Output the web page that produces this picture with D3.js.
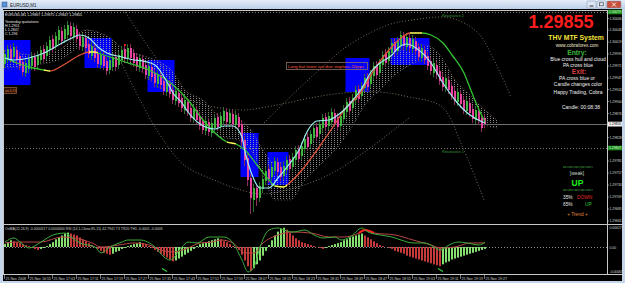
<!DOCTYPE html>
<html>
<head>
<meta charset="utf-8">
<script src="https://cdn.jsdelivr.net/npm/d3@7"></script>
<style>
  html, body { margin: 0; padding: 0; background: #c7d8ec; }
  svg { display: block; font-family: "Liberation Sans", Arial, sans-serif; }
</style>
</head>
<body>
<svg id="chart" width="625" height="283"></svg>
<script>
// M1 bars, 25 Nov 2008 16:47 .. 19:27 (161 bars)
const barOpen = [1.29975,1.29985,1.30005,1.29989,1.30003,1.29991,1.29979,1.29957,1.29965,1.29971,1.29989,1.29973,1.29983,1.30005,1.29991,1.30003,1.30025,1.30011,1.30023,1.30041,1.30025,1.30033,1.30051,1.30029,1.30045,1.30031,1.30009,1.30027,1.30015,1.29991,1.30007,1.29995,1.29973,1.29991,1.29981,1.29963,1.29969,1.29989,1.29973,1.29983,1.30005,1.29987,1.30007,1.29997,1.29989,1.29967,1.29985,1.29973,1.29951,1.29969,1.29957,1.29935,1.29953,1.29941,1.29919,1.29935,1.29923,1.29901,1.29917,1.29907,1.29883,1.29899,1.29887,1.29865,1.29883,1.29871,1.29863,1.29841,1.29859,1.29837,1.29847,1.29869,1.29851,1.29861,1.29879,1.29857,1.29875,1.29853,1.29869,1.29855,1.29823,1.29787,1.29747,1.29703,1.29727,1.29707,1.29725,1.29741,1.29765,1.29749,1.29761,1.29779,1.29769,1.29751,1.29763,1.29785,1.29769,1.29783,1.29805,1.29791,1.29805,1.29829,1.29815,1.29827,1.29849,1.29835,1.29847,1.29869,1.29851,1.29859,1.29877,1.29869,1.29851,1.29865,1.29879,1.29901,1.29887,1.29903,1.29925,1.29911,1.29927,1.29949,1.29935,1.29951,1.29973,1.29957,1.29973,1.29997,1.29981,1.29997,1.30019,1.30001,1.30013,1.30031,1.30009,1.30027,1.30005,1.30021,1.30009,1.29987,1.30003,1.29991,1.29981,1.29957,1.29973,1.29961,1.29949,1.29927,1.29943,1.29931,1.29921,1.29899,1.29915,1.29903,1.29881,1.29897,1.29885,1.29863,1.29881,1.29867,1.29867];
const barHigh = [1.30003,1.30013,1.30013,1.30017,1.30011,1.29999,1.29987,1.29985,1.29993,1.29999,1.29997,1.30001,1.30011,1.30013,1.30019,1.30031,1.30033,1.30039,1.30051,1.30049,1.30053,1.30061,1.30059,1.30057,1.30053,1.30039,1.30037,1.30035,1.30023,1.30019,1.30015,1.30003,1.30001,1.29999,1.29989,1.29991,1.29997,1.29997,1.30001,1.30011,1.30013,1.30015,1.30015,1.30005,1.29997,1.29995,1.29993,1.29981,1.29979,1.29977,1.29965,1.29963,1.29961,1.29949,1.29947,1.29943,1.29931,1.29929,1.29925,1.29915,1.29911,1.29907,1.29895,1.29893,1.29891,1.29879,1.29871,1.29869,1.29867,1.29865,1.29875,1.29877,1.29879,1.29889,1.29887,1.29885,1.29883,1.29881,1.29877,1.29863,1.29831,1.29795,1.29755,1.29735,1.29735,1.29739,1.29753,1.29769,1.29773,1.29777,1.29789,1.29787,1.29777,1.29779,1.29791,1.29793,1.29797,1.29811,1.29813,1.29819,1.29833,1.29837,1.29843,1.29855,1.29857,1.29863,1.29875,1.29877,1.29879,1.29887,1.29885,1.29877,1.29879,1.29893,1.29907,1.29909,1.29915,1.29931,1.29933,1.29939,1.29955,1.29957,1.29963,1.29979,1.29981,1.29985,1.30001,1.30005,1.30009,1.30025,1.30027,1.30029,1.30041,1.30039,1.30037,1.30035,1.30033,1.30029,1.30017,1.30015,1.30011,1.29999,1.29989,1.29985,1.29981,1.29969,1.29957,1.29955,1.29951,1.29939,1.29929,1.29927,1.29923,1.29911,1.29909,1.29905,1.29893,1.29891,1.29889,1.29875,1.29875];
const barLow = [1.29967,1.29977,1.29977,1.29981,1.29975,1.29963,1.29951,1.29949,1.29957,1.29963,1.29961,1.29965,1.29975,1.29977,1.29983,1.29995,1.29997,1.30003,1.30015,1.30013,1.30017,1.30025,1.30023,1.30021,1.30017,1.30003,1.30001,1.29999,1.29987,1.29983,1.29979,1.29967,1.29965,1.29963,1.29953,1.29955,1.29961,1.29961,1.29965,1.29975,1.29977,1.29979,1.29979,1.29969,1.29961,1.29959,1.29957,1.29945,1.29943,1.29941,1.29929,1.29927,1.29925,1.29913,1.29911,1.29907,1.29895,1.29893,1.29889,1.29879,1.29875,1.29871,1.29859,1.29857,1.29855,1.29843,1.29835,1.29833,1.29831,1.29829,1.29839,1.29841,1.29843,1.29853,1.29851,1.29849,1.29847,1.29845,1.29841,1.29811,1.29771,1.29731,1.29675,1.29679,1.29691,1.29699,1.29717,1.29733,1.29737,1.29741,1.29753,1.29751,1.29741,1.29743,1.29755,1.29757,1.29761,1.29775,1.29777,1.29783,1.29797,1.29801,1.29807,1.29819,1.29821,1.29827,1.29839,1.29841,1.29843,1.29851,1.29849,1.29841,1.29843,1.29857,1.29871,1.29873,1.29879,1.29895,1.29897,1.29903,1.29919,1.29921,1.29927,1.29943,1.29945,1.29949,1.29965,1.29969,1.29973,1.29989,1.29991,1.29993,1.30005,1.30003,1.30001,1.29999,1.29997,1.29993,1.29981,1.29979,1.29975,1.29963,1.29953,1.29949,1.29945,1.29933,1.29921,1.29919,1.29915,1.29903,1.29893,1.29891,1.29887,1.29875,1.29873,1.29869,1.29857,1.29855,1.29853,1.29839,1.29847];
const barClose = [1.29995,1.30005,1.29985,1.30009,1.29983,1.29971,1.29959,1.29977,1.29985,1.29991,1.29969,1.29993,1.30003,1.29985,1.30011,1.30023,1.30005,1.30031,1.30043,1.30021,1.30045,1.30053,1.30031,1.30049,1.30025,1.30011,1.30029,1.30007,1.29995,1.30011,1.29987,1.29975,1.29993,1.29971,1.29961,1.29983,1.29989,1.29969,1.29993,1.30003,1.29985,1.30007,1.29987,1.29977,1.29969,1.29987,1.29965,1.29953,1.29971,1.29949,1.29937,1.29955,1.29933,1.29921,1.29939,1.29915,1.29903,1.29921,1.29897,1.29887,1.29903,1.29879,1.29867,1.29885,1.29863,1.29851,1.29843,1.29861,1.29839,1.29857,1.29867,1.29849,1.29871,1.29881,1.29859,1.29877,1.29855,1.29873,1.29849,1.29819,1.29783,1.29743,1.29707,1.29727,1.29707,1.29731,1.29745,1.29761,1.29745,1.29769,1.29781,1.29759,1.29749,1.29771,1.29783,1.29765,1.29789,1.29803,1.29785,1.29811,1.29825,1.29809,1.29835,1.29847,1.29829,1.29855,1.29867,1.29849,1.29871,1.29879,1.29857,1.29849,1.29871,1.29885,1.29899,1.29881,1.29907,1.29923,1.29905,1.29931,1.29947,1.29929,1.29955,1.29971,1.29953,1.29977,1.29993,1.29977,1.30001,1.30017,1.29999,1.30021,1.30033,1.30011,1.30029,1.30007,1.30025,1.30001,1.29989,1.30007,1.29983,1.29971,1.29961,1.29977,1.29953,1.29941,1.29929,1.29947,1.29923,1.29911,1.29901,1.29919,1.29895,1.29883,1.29901,1.29877,1.29865,1.29883,1.29861,1.29847,1.29855];

// higher timeframe boxes (bar index range, high, low)
const boxStart = [0, 27, 48, 79, 88, 114, 129];
const boxEnd   = [8, 35, 56, 84, 94, 121, 141];
const boxHigh  = [1.30023, 1.30027, 1.29983, 1.29837, 1.29799, 1.29987, 1.30027];
const boxLow   = [1.29933, 1.29967, 1.29919, 1.29749, 1.29733, 1.29919, 1.29973];

// hull MA (cyan) and slow MA [bar, price]
const hullLine = [[0,1.29987],[3,1.29983],[8,1.29987],[13,1.29997],[19,1.30017],[23,1.30029],[25,1.30033],[28,1.30027],[31,1.30009],[34,1.29997],[39,1.29989],[43,1.29983],[46,1.29981],[50,1.29973],[52,1.29959],[54,1.29939],[56,1.29917],[59,1.29897],[61,1.29879],[65,1.29855],[70,1.29845],[73,1.29851],[76,1.29851],[79,1.29829],[80,1.29799],[82,1.29759],[85,1.29727],[88,1.29727],[91,1.29747],[94,1.29769],[98,1.29803],[101,1.29843],[104,1.29861],[108,1.29863],[110,1.29869],[113,1.29883],[116,1.29903],[119,1.29927],[122,1.29959],[125,1.29977],[129,1.29993],[131,1.30007],[134,1.30015],[137,1.30007],[142,1.29977],[146,1.29937],[150,1.29903],[153,1.29883],[156,1.29869],[160,1.29857]];
const slowLine = [[0,1.29987],[4,1.29977],[8,1.29969],[13,1.29963],[15,1.29961],[20,1.29975],[25,1.29993],[28,1.29999],[30,1.29999],[31,1.29997],[36,1.29987],[40,1.29979],[48,1.29963],[56,1.29933],[61,1.29903],[66,1.29863],[70,1.29837],[74,1.29819],[77,1.29815],[80,1.29803],[84,1.29773],[88,1.29743],[90,1.29731],[93,1.29729],[94,1.29733],[99,1.29763],[104,1.29803],[110,1.29855],[113,1.29883],[118,1.29913],[123,1.29963],[128,1.30003],[132,1.30027],[135,1.30037],[139,1.30037],[142,1.30033],[146,1.30017],[149,1.29993],[153,1.29957],[155,1.29927],[157,1.29897],[160,1.29859]];
const slowStates = [[0,13,"down"],[13,15,"flat"],[15,28,"up"],[28,31,"flat"],[31,74,"down"],[74,77,"flat"],[77,90,"down"],[90,94,"flat"],[94,135,"up"],[135,139,"flat"],[139,160,"down"]];

// cloud
const cloudIdx   = [0,10,18,27,35,40,45,50,56,60,66,72,78,82,86,90,95,100,105,110,115,120,125,130,135,140,145,150,155,160,164];
const cloudUpper = [1.30003,1.29993,1.30003,1.30043,1.30027,1.30003,1.29993,1.29983,1.29959,1.29923,1.29903,1.29869,1.29863,1.29843,1.29803,1.29777,1.29783,1.29803,1.29843,1.29863,1.29893,1.29933,1.29973,1.29993,1.30013,1.30013,1.29993,1.29943,1.29913,1.29883,1.29863];
const cloudLower = [1.29967,1.29973,1.29983,1.30013,1.29993,1.29979,1.29963,1.29933,1.29913,1.29883,1.29853,1.29829,1.29823,1.29803,1.29753,1.29703,1.29703,1.29743,1.29773,1.29803,1.29843,1.29893,1.29923,1.29953,1.29973,1.29983,1.29953,1.29903,1.29873,1.29853,1.29847];

// regression arcs [bar, price]
const arcUpperLeft = [[40,1.30083],[47,1.30019],[54,1.29959],[59,1.29913],[65,1.29897],[72,1.29887],[80,1.29883],[91,1.29893],[102,1.29907],[113,1.29917],[125,1.29919],[135,1.29909],[146,1.29889],[153,1.29807],[160,1.29703]];
const arcLower = [[39,1.29979],[45,1.29907],[52,1.29833],[60,1.29773],[70,1.29743],[79,1.29723],[86,1.29715],[99,1.29731],[110,1.29759],[122,1.29807],[135,1.29867]];
const arcUpperRight = [[86,1.29853],[95,1.29907],[105,1.29963],[115,1.30013],[128,1.30053],[136,1.30063],[149,1.30067],[158,1.30037],[163,1.29987],[169,1.29909]];

const resistance2 = 1.30079;
const resistance1 = 1.29807;
const redMark = [40, 1.30013];

const priceTicks = [1.30066,1.30043,1.30019,1.29995,1.29971,1.29947,1.29924,1.29900,1.29876,1.29828,1.29781,1.29757,1.29733,1.29709,1.29685,1.29661];
const timeLabels = ["25 Nov 2008","25 Nov 16:55","25 Nov 17:03","25 Nov 17:11","25 Nov 17:19","25 Nov 17:27","25 Nov 17:35","25 Nov 17:43","25 Nov 17:51","25 Nov 17:59","25 Nov 18:07","25 Nov 18:15","25 Nov 18:23","25 Nov 18:31","25 Nov 18:39","25 Nov 18:47","25 Nov 18:55","25 Nov 19:03","25 Nov 19:11","25 Nov 19:19","25 Nov 19:27"];
const timeLabelBars = [0,8,16,24,32,40,48,56,64,72,80,88,96,104,112,120,128,136,144,152,160];

// OsMA histogram, one per bar
const osmaValues = [0.000075,0.000125,0.000175,0.00015,0.000125,0.0001,0.000075,0.00005,0.000025,-0.000025,-0.00005,-0.000075,-0.00005,-0.000025,0.000025,0.000075,0.000125,0.0002,0.00025,0.0003,0.00035,0.000375,0.00035,0.000325,0.0003,0.00025,0.0002,0.00015,0.0001,0.00005,0,-0.00005,-0.0001,-0.00015,-0.000175,-0.0002,-0.000175,-0.000125,-0.0001,-0.00005,-0.000025,0.000025,0.00005,0.000075,0.0001,0.000125,0.0001,0.000075,0.000025,-0.000025,-0.000075,-0.000125,-0.000175,-0.000225,-0.000275,-0.000325,-0.000375,-0.00035,-0.0003,-0.00025,-0.0002,-0.00015,-0.0001,-0.00005,0.000025,0.000075,0.0001,0.000125,0.00015,0.000175,0.0002,0.000225,0.0002,0.00015,0.000125,0.000075,0.000025,-0.000025,-0.000075,-0.0002,-0.00035,-0.0005,-0.000625,-0.00055,-0.00045,-0.00035,-0.000225,-0.0001,0.00005,0.000175,0.0003,0.0004,0.000475,0.0005,0.00045,0.000375,0.0003,0.000225,0.000175,0.000125,0.0001,0.000075,0.00005,0.000025,0,-0.000025,-0.00005,-0.000025,0.000025,0.00005,0.000075,0.0001,0.000125,0.000175,0.0002,0.00025,0.000275,0.0003,0.000325,0.00035,0.0003,0.00025,0.0002,0.00015,0.0001,0.00005,0.000025,0,-0.000025,-0.00005,-0.0001,-0.000125,-0.00015,-0.000175,-0.000225,-0.00025,-0.000275,-0.0003,-0.000325,-0.00035,-0.000375,-0.0004,-0.000425,-0.00045,-0.000475,-0.0005,-0.00045,-0.0004,-0.000375,-0.000325,-0.0003,-0.000275,-0.00025,-0.000225,-0.0002,-0.000175,-0.00015,-0.000125,-0.0001,-0.000075,-0.00005];
// RSI and its signal line [bar, value]
const rsiMain = [[0,56.9],[3,62.5],[5,56.9],[8,48.6],[12,56.9],[16,66.7],[20,69.4],[22,63.9],[25,55.6],[30,50],[32,41.7],[35,50],[39,56.9],[41,59.7],[45,59.7],[50,50],[53,36.1],[55,31.9],[59,50],[61,56.9],[64,55.6],[68,63.9],[73,63.9],[76,55.6],[79,31.9],[81,15.3],[83,22.2],[85,50],[88,73.6],[91,76.4],[93,73.6],[96,70.8],[100,73.6],[103,66.7],[106,62.5],[110,63.9],[112,59.7],[115,63.9],[119,76.4],[121,70.8],[125,66.7],[129,63.9],[132,59.7],[136,55.6],[140,55.6],[143,50],[145,45.8],[148,52.8],[151,56.9],[154,55.6],[158,52.8],[160,56.9]];
const rsiSignal = [[0,55.6],[5,56.9],[12,56.9],[19,63.9],[23,62.5],[29,55.6],[32,50],[38,52.8],[43,55.6],[48,52.8],[52,45.8],[56,43.1],[61,48.6],[65,55.6],[69,56.9],[72,59.7],[76,55.6],[80,41.7],[83,41.7],[86,55.6],[91,66.7],[96,70.8],[102,69.4],[108,63.9],[113,63.9],[118,69.4],[120,73.6],[123,69.4],[130,66.7],[136,59.7],[142,52.8],[145,48.6],[150,50],[155,55.6],[160,55.6]];
const rsiHighlight = [116, 123];
const buySignalBars = [53, 145];

const yesterday = { H: "1.2951", L: "1.2847", C: "1.296" };

// ---------------------------------------------------------------
const svg = d3.select("#chart");
const defs = svg.append("defs");

const left = 3, right = 607, mainTop = 10, mainBottom = 224, indTop = 225, indBottom = 274;

const x = d3.scaleLinear().domain([0, 160]).range([4, 484]);
const y = d3.scaleLinear().domain([1.29655, 1.30103]).range([224, 0]);
const yOsma = d3.scaleLinear().domain([-0.00065, 0]).range([272, 247]);
const yRsi = d3.scaleLinear().domain([0, 100]).range([283, 211]);
const fmt5 = d3.format(".5f");

// window chrome
const tg = defs.append("linearGradient").attr("id", "titleGrad").attr("x1", 0).attr("y1", 0).attr("x2", 0).attr("y2", 1);
tg.append("stop").attr("offset", "0%").attr("stop-color", "#e6eef9");
tg.append("stop").attr("offset", "100%").attr("stop-color", "#bccfe8");
svg.append("rect").attr("width", 625).attr("height", 283).attr("fill", "#c4d5ea");
svg.append("rect").attr("width", 625).attr("height", 9).attr("fill", "url(#titleGrad)");
svg.append("rect").attr("x", 2).attr("y", 2).attr("width", 5).attr("height", 5).attr("fill", "#5a8fd0").attr("stroke", "#2d5c9a").attr("stroke-width", 0.5);
svg.append("text").attr("x", 10).attr("y", 7).attr("font-size", 4.5).attr("fill", "#1a1a1a").text("EURUSD,M1");

const buttons = [{x: 587, w: 9, c: "#dce6f3"}, {x: 597, w: 9, c: "#dce6f3"}, {x: 607, w: 14, c: "#c8503c"}];
svg.selectAll("rect.btn").data(buttons).join("rect").attr("class", "btn")
  .attr("x", d => d.x).attr("y", 1).attr("width", d => d.w).attr("height", 7).attr("rx", 1)
  .attr("fill", d => d.c).attr("stroke", "#7d92b4").attr("stroke-width", 0.5);
svg.append("line").attr("x1", 589.5).attr("x2", 593.5).attr("y1", 6).attr("y2", 6).attr("stroke", "#333");
svg.append("rect").attr("x", 599.5).attr("y", 2.8).attr("width", 4).attr("height", 3).attr("fill", "none").attr("stroke", "#333").attr("stroke-width", 0.6);
svg.append("path").attr("d", "M612,2.5 L616,6.5 M616,2.5 L612,6.5").attr("stroke", "#fff").attr("stroke-width", 0.9);

// black chart area
svg.append("rect").attr("x", left).attr("y", 9).attr("width", 619).attr("height", 272).attr("fill", "#000");

defs.append("clipPath").attr("id", "clipMain").append("rect")
  .attr("x", left + 1).attr("y", mainTop + 1).attr("width", right - left - 1).attr("height", mainBottom - mainTop - 1);
defs.append("clipPath").attr("id", "clipInd").append("rect")
  .attr("x", left + 1).attr("y", indTop + 1).attr("width", right - left - 1).attr("height", indBottom - indTop - 1);

// cloud drawn as dotted vertical hatching, one column per bar
const dots = defs.append("pattern").attr("id", "dots").attr("width", 3).attr("height", 2).attr("patternUnits", "userSpaceOnUse");
dots.append("rect").attr("x", 1).attr("width", 1).attr("height", 1).attr("fill", "#a9a9a9");

const g = svg.append("g").attr("clip-path", "url(#clipMain)");

// blue higher-timeframe boxes
g.selectAll("rect.box").data(d3.range(boxStart.length)).join("rect").attr("class", "box")
  .attr("x", k => x(boxStart[k]) - 0.5)
  .attr("width", k => x(boxEnd[k]) - x(boxStart[k]) + 3)
  .attr("y", k => y(boxHigh[k]))
  .attr("height", k => y(boxLow[k]) - y(boxHigh[k]))
  .attr("fill", "#0000fa");

// cloud
const cloud = cloudIdx.map((i, k) => ({i, hi: cloudUpper[k], lo: cloudLower[k]}));
g.append("path").datum(cloud)
  .attr("d", d3.area().curve(d3.curveMonotoneX).x(d => x(d.i) + 1).y0(d => y(d.lo)).y1(d => y(d.hi)))
  .attr("fill", "url(#dots)").attr("opacity", 0.8);
[["hi", "#8a6a6a"], ["lo", "#6e6e6e"]].forEach(([k, c]) => {
  g.append("path").datum(cloud)
    .attr("d", d3.line().curve(d3.curveMonotoneX).x(d => x(d.i) + 1).y(d => y(d[k])))
    .attr("fill", "none").attr("stroke", c).attr("stroke-width", 0.8).attr("stroke-dasharray", "1,2");
});

// dotted arcs
[arcUpperLeft, arcLower, arcUpperRight].forEach(arc => {
  g.append("path").datum(arc)
    .attr("d", d3.line().curve(d3.curveCatmullRom).x(d => x(d[0])).y(d => y(d[1])))
    .attr("fill", "none").attr("stroke", "#7a6e5a").attr("stroke-width", 1).attr("stroke-dasharray", "1,2");
});

// resistance & bid lines
[resistance2, resistance1].forEach(r => {
  g.append("line").attr("x1", left).attr("x2", right)
    .attr("y1", Math.round(y(r)) + 0.5).attr("y2", Math.round(y(r)) + 0.5)
    .attr("stroke", "#7a7a7a").attr("stroke-dasharray", "1,2");
});
const bid = barClose[barClose.length - 1];
g.append("line").attr("x1", left).attr("x2", right)
  .attr("y1", Math.round(y(bid)) + 0.5).attr("y2", Math.round(y(bid)) + 0.5)
  .attr("stroke", "#6e6e6e").attr("stroke-width", 1.2);

// candles
const bars = barOpen.map((o, i) => ({i, o, h: barHigh[i], l: barLow[i], c: barClose[i]}));
g.selectAll("line.wick").data(bars).join("line").attr("class", "wick")
  .attr("x1", d => x(d.i) + 0.5).attr("x2", d => x(d.i) + 0.5)
  .attr("y1", d => y(d.h)).attr("y2", d => y(d.l))
  .attr("stroke", d => d.c >= d.o ? "#2c6e2c" : "#8b2c5c");
g.selectAll("rect.body").data(bars).join("rect").attr("class", "body")
  .attr("x", d => x(d.i)).attr("width", 2)
  .attr("y", d => y(Math.max(d.o, d.c)))
  .attr("height", d => Math.max(1, Math.abs(y(d.o) - y(d.c))))
  .attr("fill", d => d.c >= d.o ? "#3fb43f" : "#e6449f");

// slow line coloured by state
const stateColor = {down: "#32c232", up: "#e0523c", flat: "#ffff5a"};
const slowPath = d3.line().curve(d3.curveMonotoneX).x(d => x(d[0]) + 1).y(d => y(d[1]))(slowLine);
slowStates.forEach(([s, e, st], k) => {
  const id = "slowClip" + k;
  defs.append("clipPath").attr("id", id).append("rect")
    .attr("x", x(s) + 1).attr("y", 0).attr("width", x(e) - x(s) + (k === slowStates.length - 1 ? 3 : 0)).attr("height", 283);
  g.append("path").attr("d", slowPath).attr("clip-path", `url(#${id})`)
    .attr("fill", "none").attr("stroke", stateColor[st]).attr("stroke-width", 1.3);
});

// hull line
g.append("path").datum(hullLine)
  .attr("d", d3.line().curve(d3.curveMonotoneX).x(d => x(d[0]) + 1).y(d => y(d[1])))
  .attr("fill", "none").attr("stroke", "#9eeef2").attr("stroke-width", 1.2);

// red marker
g.append("rect").attr("x", x(redMark[0])).attr("y", y(redMark[1]) - 1).attr("width", 2).attr("height", 2).attr("fill", "#e02020");

// annotations
const note = svg.append("g");
note.append("rect").attr("x", 286.5).attr("y", 62.5).attr("width", 81).attr("height", 7)
  .attr("fill", "none").attr("stroke", "#8c7060").attr("stroke-width", 0.8);
note.append("text").attr("x", 288).attr("y", 68).attr("font-size", 4.4).attr("fill", "#ff5a3c")
  .text("Long but lower out due stoploss 20pips");
note.append("rect").attr("x", 3.5).attr("y", 87.5).attr("width", 13).attr("height", 6)
  .attr("fill", "#2a1208").attr("stroke", "#8c5a40").attr("stroke-width", 0.8);
note.append("text").attr("x", 5).attr("y", 92.3).attr("font-size", 4.2).attr("fill", "#ff8a40").text("ss LO");
note.append("text").attr("x", 442).attr("y", Math.round(y(resistance2)) + 4.5).attr("font-size", 3.8).attr("fill", "#3a9a3a").text("Resistance 2");
note.append("text").attr("x", 442).attr("y", Math.round(y(resistance1)) + 4.5).attr("font-size", 3.8).attr("fill", "#3a9a3a").text("Resistance 1");

// top-left info
const last = bars[bars.length - 1];
const info = svg.append("g").attr("font-size", 3.6).attr("fill", "#e8e8e8");
info.append("text").attr("x", 5).attr("y", 15.5)
  .text(`EURUSD,M1  ${fmt5(last.o)} ${fmt5(last.h)} ${fmt5(last.l)} ${fmt5(last.c)}`);
info.append("text").attr("x", 5).attr("y", 22.5).text("Yesterday quotations");
info.append("text").attr("x", 5).attr("y", 26.5).text("H " + yesterday.H);
info.append("text").attr("x", 5).attr("y", 30.5).text("L " + yesterday.L);
info.append("text").attr("x", 5).attr("y", 34.5).text("C " + yesterday.C);

// indicator window
const gi = svg.append("g").attr("clip-path", "url(#clipInd)");
gi.append("line").attr("x1", left).attr("x2", right).attr("y1", yOsma(0) + 0.5).attr("y2", yOsma(0) + 0.5)
  .attr("stroke", "#8a8a8a").attr("stroke-dasharray", "1,2");
gi.selectAll("rect.osma").data(osmaValues).join("rect").attr("class", "osma")
  .attr("x", (v, i) => x(i)).attr("width", 2)
  .attr("y", v => Math.min(yOsma(v), yOsma(0)))
  .attr("height", v => Math.abs(yOsma(v) - yOsma(0)))
  .attr("fill", (v, i) => (i === 0 || v >= osmaValues[i - 1]) ? "#86e070" : "#c23a3a");
const rsiLine = d3.line().curve(d3.curveMonotoneX).x(d => x(d[0]) + 1).y(d => yRsi(d[1]));
gi.append("path").datum(rsiSignal).attr("d", rsiLine).attr("fill", "none").attr("stroke", "#b84646").attr("stroke-width", 1);
gi.append("path").datum(rsiSignal.filter(d => d[0] >= rsiHighlight[0] && d[0] <= rsiHighlight[1]))
  .attr("d", rsiLine).attr("fill", "none").attr("stroke", "#ff2424").attr("stroke-width", 2.2);
gi.append("path").datum(rsiMain).attr("d", rsiLine).attr("fill", "none").attr("stroke", "#3caa3c").attr("stroke-width", 1);
gi.selectAll("line.sig").data(buySignalBars).join("line").attr("class", "sig")
  .attr("x1", i => x(i) - 1).attr("x2", i => x(i) + 4)
  .attr("y1", yRsi(20)).attr("y2", yRsi(16))
  .attr("stroke", "#40d040").attr("stroke-width", 1.2);
svg.append("text").attr("x", 5).attr("y", 230).attr("font-size", 3.5).attr("fill", "#d0d0d0")
  .text("OsMA(12,26,9) -0.0000117 0.0000000  RSI (14,1,Close,85,15) 42.7941  T3 TR20 TH1 -0.0001 -0.0003");

// frame lines
const frame = svg.append("g").attr("stroke", "#c8c8c8").attr("stroke-width", 1);
frame.append("line").attr("x1", left).attr("x2", 622).attr("y1", mainTop + 0.5).attr("y2", mainTop + 0.5);
frame.append("line").attr("x1", left + 0.5).attr("x2", left + 0.5).attr("y1", mainTop).attr("y2", indBottom);
frame.append("line").attr("x1", left).attr("x2", 622).attr("y1", mainBottom + 0.5).attr("y2", mainBottom + 0.5);
frame.append("line").attr("x1", left).attr("x2", 622).attr("y1", indBottom + 0.5).attr("y2", indBottom + 0.5);
frame.append("line").attr("x1", right + 0.5).attr("x2", right + 0.5).attr("y1", mainTop).attr("y2", indBottom);

// price axis
const ax = svg.append("g").attr("font-size", 3.4).attr("fill", "#d8d8d8");
priceTicks.forEach(p => {
  ax.append("line").attr("x1", right).attr("x2", right + 2).attr("y1", y(p)).attr("y2", y(p)).attr("stroke", "#c8c8c8").attr("stroke-width", 0.6);
  ax.append("text").attr("x", right + 2.5).attr("y", y(p) + 1.3).text(fmt5(p));
});
[resistance2, resistance1].forEach(r => {
  ax.append("rect").attr("x", right + 1).attr("y", y(r) - 2.3).attr("width", 14).attr("height", 4.6).attr("fill", "#1e8c1e");
  ax.append("text").attr("x", right + 2).attr("y", y(r) + 1.3).attr("fill", "#d8ffd8").text(fmt5(r));
});
ax.append("rect").attr("x", right + 1).attr("y", y(bid) - 2.3).attr("width", 14).attr("height", 4.8).attr("fill", "#f4f4f4");
ax.append("text").attr("x", right + 2).attr("y", y(bid) + 1.4).attr("fill", "#000").text(fmt5(bid));
ax.append("text").attr("x", right + 2.5).attr("y", indTop + 3.5).text("0.00027");
ax.append("text").attr("x", right + 2.5).attr("y", yOsma(0) + 1.5).text("0.00");
ax.append("text").attr("x", right + 2.5).attr("y", indBottom - 1).text("-0.00065");

// time axis
const tx = svg.append("g").attr("font-size", 3.6).attr("fill", "#d0d0d0");
timeLabels.forEach((t, k) => {
  const xp = x(timeLabelBars[k]);
  tx.append("line").attr("x1", xp + 0.5).attr("x2", xp + 0.5).attr("y1", indBottom).attr("y2", indBottom + 5).attr("stroke", "#c8c8c8").attr("stroke-width", 0.6);
  tx.append("text").attr("x", xp + 1.5).attr("y", 279.5).text(t);
});

// right-side system panel
const pn = svg.append("g").attr("text-anchor", "middle");
pn.append("text").attr("x", 561).attr("y", 28).attr("font-size", 18).attr("font-weight", "bold").attr("fill", "#ff1c1c").text(fmt5(bid));
pn.append("text").attr("x", 576).attr("y", 40).attr("font-size", 6.8).attr("font-weight", "bold").attr("fill", "#f4e23c").text("THV MTF System");
pn.append("text").attr("x", 577).attr("y", 46.5).attr("font-size", 4.6).attr("fill", "#f0e6c8").text("www.cobraforex.com");
pn.append("text").attr("x", 577).attr("y", 55).attr("font-size", 6.8).attr("font-weight", "bold").attr("fill", "#3cb43c").text("Entry:");
pn.append("text").attr("x", 578).attr("y", 61).attr("font-size", 5).attr("fill", "#f2f2f2").text("Blue cross hull and cloud");
pn.append("text").attr("x", 578).attr("y", 66.5).attr("font-size", 5).attr("fill", "#f2f2f2").text("PA cross blue");
pn.append("text").attr("x", 579).attr("y", 74).attr("font-size", 6.8).attr("font-weight", "bold").attr("fill", "#d83c3c").text("Exit:");
pn.append("text").attr("x", 577).attr("y", 80).attr("font-size", 5).attr("fill", "#f2f2f2").text("PA cross blue or");
pn.append("text").attr("x", 578).attr("y", 85.5).attr("font-size", 5).attr("fill", "#f2f2f2").text("Candle changes color");
pn.append("text").attr("x", 578).attr("y", 93.5).attr("font-size", 5).attr("fill", "#f2f2f2").text("Happy Trading, Cobra");
pn.append("text").attr("x", 581).attr("y", 109).attr("font-size", 5).attr("fill", "#f2f2f2").text("Candle: 00:08:38");

[167, 190].forEach(yy => {
  pn.append("line").attr("x1", 563).attr("x2", 593).attr("y1", yy).attr("y2", yy)
    .attr("stroke", "#3c9c3c").attr("stroke-width", 1.6).attr("stroke-dasharray", "0.6,0.6");
});
pn.append("text").attr("x", 577).attr("y", 175).attr("font-size", 5).attr("fill", "#c8d8c8").text("[weak]");
pn.append("text").attr("x", 577.5).attr("y", 186).attr("font-size", 8.5).attr("font-weight", "bold").attr("fill", "#1cf01c").text("UP");
const pl = svg.append("g").attr("font-size", 4.8);
pl.append("text").attr("x", 563).attr("y", 199).attr("fill", "#e8e8e8").text("35%");
pl.append("text").attr("x", 577).attr("y", 199).attr("fill", "#e02828").text("DOWN");
pl.append("text").attr("x", 563).attr("y", 206).attr("fill", "#e8e8e8").text("65%");
pl.append("text").attr("x", 585).attr("y", 206).attr("fill", "#30c830").text("UP");
pn.append("text").attr("x", 577.5).attr("y", 215.5).attr("font-size", 4.8).attr("fill", "#e0883c").text("+   Trend   +");
</script>
</body>
</html>
